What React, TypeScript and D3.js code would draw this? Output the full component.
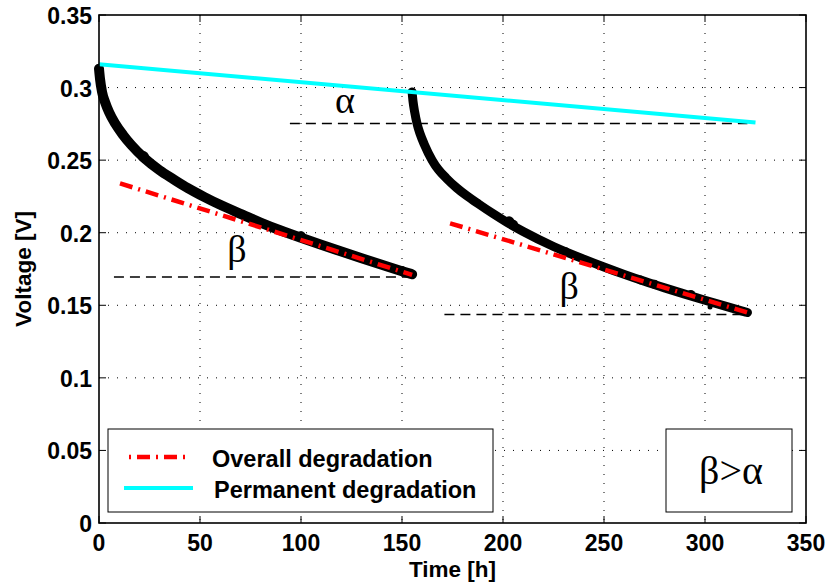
import React from "react";
import * as d3 from "d3";

const W = 828;
const H = 584;

const xTicks = [0, 50, 100, 150, 200, 250, 300, 350];
const yTicks = [0, 0.05, 0.1, 0.15, 0.2, 0.25, 0.3, 0.35];
const yTickLabels = ["0", "0.05", "0.1", "0.15", "0.2", "0.25", "0.3", "0.35"];

const curve1T = [0, 0.5, 1.5, 3, 5, 8, 12, 16, 22.8, 30, 37, 44, 52, 60, 71, 80, 90, 100, 110, 120, 130, 140, 150, 155];
const curve1V = [0.313, 0.306, 0.297, 0.290, 0.283, 0.2752, 0.2672, 0.2604, 0.2509, 0.243, 0.2367, 0.2307, 0.2247, 0.2192, 0.2125, 0.207, 0.2015, 0.1965, 0.1917, 0.187, 0.1824, 0.1779, 0.1735, 0.1714];

const curve2T = [155, 155.5, 156.3, 157.4, 159, 161, 164.9, 168, 172, 177, 182, 188, 195, 202, 210, 225, 240, 250, 260, 270, 280, 290, 300, 310, 321];
const curve2V = [0.297, 0.290, 0.283, 0.2754, 0.268, 0.261, 0.250, 0.2435, 0.2375, 0.231, 0.2255, 0.2197, 0.2132, 0.2071, 0.2008, 0.1905, 0.1818, 0.1764, 0.1713, 0.1665, 0.162, 0.1577, 0.1535, 0.1494, 0.145];

// small blobs / spikes visible on the measured curves
const blobT = [22, 100, 150, 203, 205, 231, 268, 275, 293, 302.5];
const blobV = [0.2525, 0.1975, 0.174, 0.2075, 0.2055, 0.1868, 0.1675, 0.1645, 0.1575, 0.1488];
const blobR = [5.5, 5, 4.5, 5.5, 5, 4.5, 4.5, 4.5, 4.5, 2.5];

const overall1 = [[10.4, 0.234], [155, 0.171]];
const overall2 = [[173.8, 0.2065], [321, 0.145]];
const permanent = [[0, 0.316], [325, 0.276]];

const dashLines = [
  [[94.5, 0.2753], [321, 0.2753]],
  [[7.4, 0.1695], [154, 0.1695]],
  [[171, 0.1437], [321, 0.1437]],
];

const greekLabels = [
  { t: 121.8, v: 0.2825, text: "α" },
  { t: 68.3, v: 0.1798, text: "β" },
  { t: 232.7, v: 0.1543, text: "β" },
];

const legendItems = ["Overall degradation", "Permanent degradation"];

export default function App() {
  const left = 99, right = 806, top = 15, bottom = 523;
  const x = d3.scaleLinear().domain([0, 350]).range([left, right]);
  const y = d3.scaleLinear().domain([0, 0.35]).range([bottom, top]);

  const line = d3
    .line<[number, number]>()
    .x((d) => x(d[0]))
    .y((d) => y(d[1]));
  const smooth = d3
    .line<[number, number]>()
    .x((d) => x(d[0]))
    .y((d) => y(d[1]))
    .curve(d3.curveMonotoneX);

  const c1 = curve1T.map((t, i) => [t, curve1V[i]] as [number, number]);
  const c2 = curve2T.map((t, i) => [t, curve2V[i]] as [number, number]);

  const bold = "Arial, 'Liberation Sans', Helvetica, sans-serif";
  const serif = "'Liberation Serif', 'Times New Roman', serif";

  return (
    <svg width={W} height={H} style={{ position: "absolute", left: 0, top: 0, background: "#fff" }}>
      <rect x={0} y={0} width={W} height={H} fill="#fff" />
      {/* grid */}
      {xTicks.slice(1, -1).map((t) => (
        <line key={"gx" + t} x1={x(t)} x2={x(t)} y1={top} y2={bottom} stroke="#000" strokeWidth={1} strokeDasharray="1,8" />
      ))}
      {yTicks.slice(1, -1).map((t) => (
        <line key={"gy" + t} x1={left} x2={right} y1={y(t)} y2={y(t)} stroke="#000" strokeWidth={1} strokeDasharray="1,8" />
      ))}
      {/* ticks */}
      {xTicks.map((t) => (
        <g key={"tx" + t}>
          <line x1={x(t)} x2={x(t)} y1={bottom} y2={bottom - 7} stroke="#000" />
          <line x1={x(t)} x2={x(t)} y1={top} y2={top + 7} stroke="#000" />
          <text x={x(t)} y={bottom + 28} textAnchor="middle" fontFamily={bold} fontWeight="bold" fontSize={23}>
            {t}
          </text>
        </g>
      ))}
      {yTicks.map((t, i) => (
        <g key={"ty" + t}>
          <line x1={left} x2={left + 7} y1={y(t)} y2={y(t)} stroke="#000" />
          <line x1={right} x2={right - 7} y1={y(t)} y2={y(t)} stroke="#000" />
          <text x={left - 7} y={y(t) + 9} textAnchor="end" fontFamily={bold} fontWeight="bold" fontSize={23}>
            {yTickLabels[i]}
          </text>
        </g>
      ))}
      {/* dashed reference lines */}
      {dashLines.map((d, i) => (
        <path key={"dl" + i} d={line(d as [number, number][]) || ""} stroke="#000" strokeWidth={1.5} strokeDasharray="10,6" fill="none" />
      ))}
      {/* black data curves */}
      <path d={smooth(c1) || ""} stroke="#000" strokeWidth={10} fill="none" strokeLinecap="round" strokeLinejoin="round" />
      <path d={smooth(c2) || ""} stroke="#000" strokeWidth={9} fill="none" strokeLinecap="round" strokeLinejoin="round" />
      {blobT.map((t, i) => (
        <circle key={"b" + i} cx={x(t)} cy={y(blobV[i])} r={blobR[i]} fill="#000" />
      ))}
      {/* overall degradation */}
      {[overall1, overall2].map((d, i) => (
        <path key={"ov" + i} d={line(d as [number, number][]) || ""} stroke="#ff0000" strokeWidth={4.5} strokeDasharray="13,6,2,6" fill="none" />
      ))}
      {/* permanent */}
      <path d={line(permanent as [number, number][]) || ""} stroke="#00ffff" strokeWidth={4} fill="none" />
      {/* greek labels */}
      {greekLabels.map((g, i) => (
        <text key={"gl" + i} x={x(g.t)} y={y(g.v)} textAnchor="middle" fontFamily={serif} fontSize={38}>
          {g.text}
        </text>
      ))}
      {/* axes box */}
      <rect x={left} y={top} width={right - left} height={bottom - top} fill="none" stroke="#000" strokeWidth={1.6} />
      {/* legend */}
      <rect x={108} y={429} width={385} height={83} fill="#fff" stroke="#000" strokeWidth={1} />
      <line x1={129} x2={188} y1={457} y2={457} stroke="#ff0000" strokeWidth={4.5} strokeDasharray="2,6,13,6" />
      <line x1={124} x2={193} y1={488} y2={488} stroke="#00ffff" strokeWidth={4} />
      <text x={212} y={467} fontFamily={bold} fontWeight="bold" fontSize={23.5}>
        {legendItems[0]}
      </text>
      <text x={214} y={498} fontFamily={bold} fontWeight="bold" fontSize={23.5}>
        {legendItems[1]}
      </text>
      {/* beta > alpha box */}
      <rect x={666} y={429} width={126} height={83} fill="#fff" stroke="#000" strokeWidth={1} />
      <text x={731} y={484} textAnchor="middle" fontFamily={serif} fontSize={40}>
        β&gt;α
      </text>
      {/* axis labels */}
      <text x={(left + right) / 2} y={577} textAnchor="middle" fontFamily={bold} fontWeight="bold" fontSize={22.5}>
        Time [h]
      </text>
      <text transform={`translate(31,${(top + bottom) / 2}) rotate(-90)`} textAnchor="middle" fontFamily={bold} fontWeight="bold" fontSize={22.5}>
        Voltage [V]
      </text>
    </svg>
  );
}
